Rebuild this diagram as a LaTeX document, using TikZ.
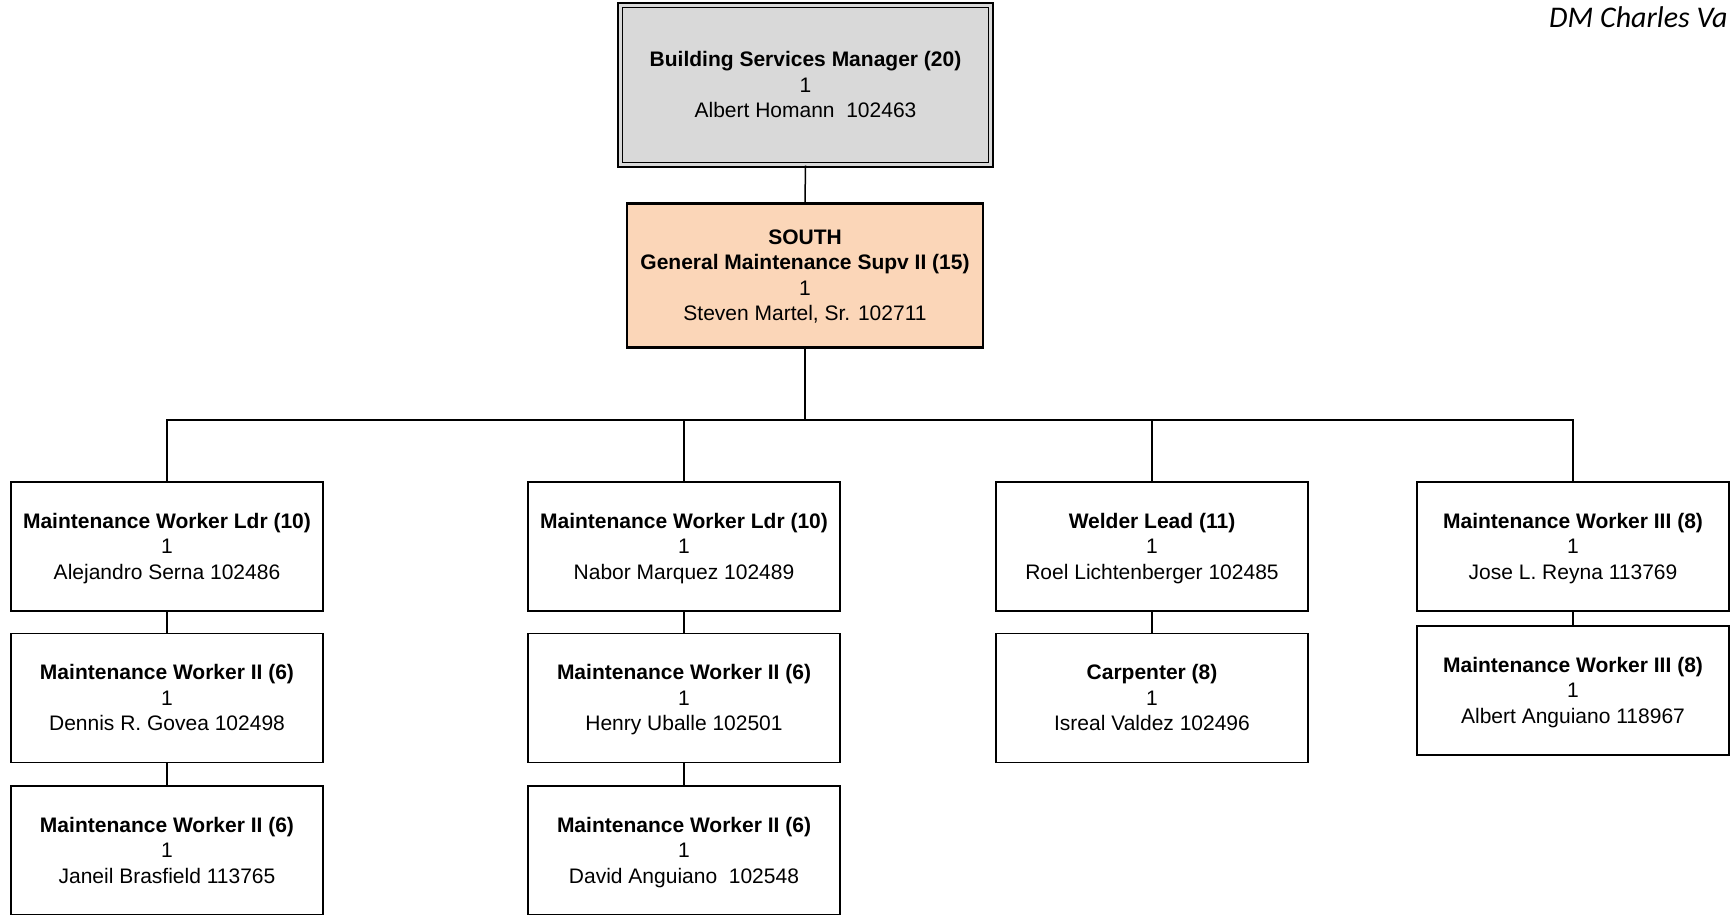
\documentclass[tikz,border=0pt]{standalone}
\usepackage{fontspec}
\setmainfont{Liberation Sans}
\newfontfamily\calib{Carlito}
\definecolor{mgrgray}{HTML}{D9D9D9}
\definecolor{peach}{HTML}{FBD6B8}
\newcommand\tstrut{\rule{0pt}{19pt}}
\newcommand\bstrut{\rule[-5pt]{0pt}{5pt}}
\newcommand\orgentry[3]{\tstrut\textbf{#1}\\#2\\#3\bstrut}
\begin{document}
\begin{tikzpicture}[x=1pt,y=-1pt,
  txt/.style={align=center,font=\fontsize{21}{25.5}\selectfont,inner sep=0pt},
  box/.style={txt,draw=black,line width=1.5pt,minimum width=312pt,minimum height=129pt,fill=white},
  conn/.style={line width=1.5pt},
  thick conn/.style={line width=2.5pt}]
\clip (0,0) rectangle (1733,914);
\fill[white] (0,0) rectangle (1733,914);

\node[txt,draw=black,line width=1.5pt,double=mgrgray,double distance=3pt,fill=mgrgray,
  minimum width=370.5pt,minimum height=159.5pt] (top) at (805.5,85)
  {\orgentry{Building Services Manager (20)}{1}{Albert Homann\ \ 102463}};

\node[txt,draw=black,line width=2.5pt,fill=peach,minimum width=356pt,minimum height=144pt]
  (south) at (805,275.5)
  {\tstrut\textbf{SOUTH}\\\textbf{General Maintenance Supv II (15)}\\1\\Steven Martel, Sr. 102711\bstrut};

\node[box] (a1) at (167,546.5) {\orgentry{Maintenance Worker Ldr (10)}{1}{Alejandro Serna 102486}};
\node[box] (a2) at (167,698) {\orgentry{Maintenance Worker II (6)}{1}{Dennis R. Govea 102498}};
\node[box] (a3) at (167,850.5) {\orgentry{Maintenance Worker II (6)}{1}{Janeil Brasfield 113765}};

\node[box] (b1) at (684,546.5) {\orgentry{Maintenance Worker Ldr (10)}{1}{Nabor Marquez 102489}};
\node[box] (b2) at (684,698) {\orgentry{Maintenance Worker II (6)}{1}{Henry Uballe 102501}};
\node[box] (b3) at (684,850.5) {\orgentry{Maintenance Worker II (6)}{1}{David Anguiano\ \ 102548}};

\node[box] (c1) at (1152,546.5) {\orgentry{Welder Lead (11)}{1}{Roel Lichtenberger 102485}};
\node[box] (c2) at (1152,698) {\orgentry{Carpenter (8)}{1}{Isreal Valdez 102496}};

\node[box] (d1) at (1573,546.5) {\orgentry{Maintenance Worker III (8)}{1}{Jose L. Reyna 113769}};
\node[box] (d2) at (1573,690.5) {\orgentry{Maintenance Worker III (8)}{1}{Albert Anguiano 118967}};

\coordinate (bus) at (805,420);

\draw[conn] (top.south) -- (south.north);
\draw[thick conn] (south.south) -- (bus);
\draw[conn] (a1.north) |- (bus) -| (d1.north);
\draw[conn] (b1.north) |- (bus);
\draw[conn] (c1.north) |- (bus);
\draw[conn] (a1.south) -- (a2.north);
\draw[conn] (a2.south) -- (a3.north);
\draw[conn] (b1.south) -- (b2.north);
\draw[conn] (b2.south) -- (b3.north);
\draw[conn] (c1.south) -- (c2.north);
\draw[conn] (d1.south) -- (d2.north);

\node[anchor=base west,inner sep=0pt,font=\calib\itshape\fontsize{30}{36}\selectfont] (dm) at (1549,27) {DM Charles Va};
\end{tikzpicture}
\end{document}
